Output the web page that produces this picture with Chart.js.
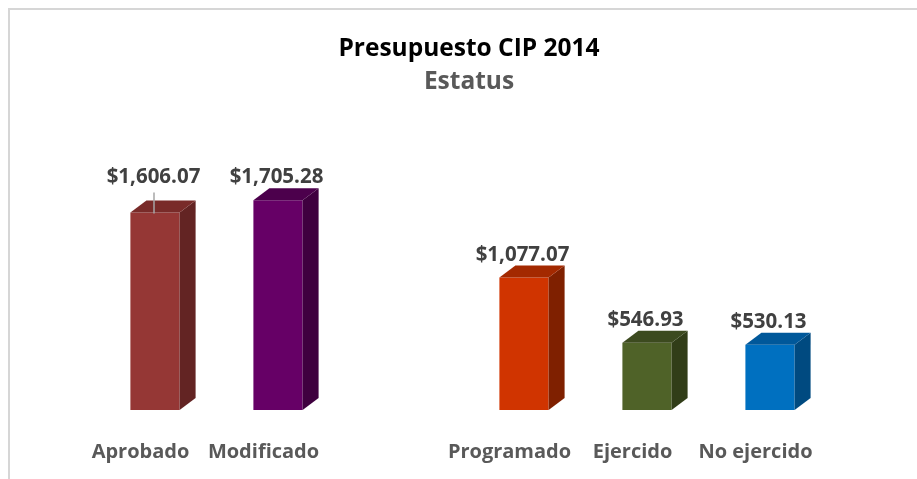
<!DOCTYPE html>
<html>
<head>
<meta charset="utf-8">
<script src="https://cdn.jsdelivr.net/npm/chart.js@4/dist/chart.umd.min.js"></script>
<style>
  html, body { margin: 0; padding: 0; background: #fff; }
  #wrap { width: 917px; height: 479px; position: relative; }
</style>
</head>
<body>
<div id="wrap"><canvas id="chart" width="917" height="479"></canvas></div>
<script>
const categories = ["Aprobado", "Modificado", "", "Programado", "Ejercido", "No ejercido"]
const values = [1606.07, 1705.28, null, 1077.07, 546.93, 530.13]

const frontColors = ["#953735", "#660066", "#ffffff", "#d03400", "#4f6228", "#0070c0"]
const topColors = ["#792b29", "#4c004c", "#ffffff", "#a32900", "#3c4a1f", "#00589a"]
const sideColors = ["#632423", "#3f003f", "#ffffff", "#7f2000", "#313d18", "#004a80"]

const FONT = "'Open Sans', 'DejaVu Sans', sans-serif"
const DEPTH_X = 16
const DEPTH_Y = 12

const money = v => "$" + v.toLocaleString("en-US", { minimumFractionDigits: 2, maximumFractionDigits: 2 })

// outer frame of the original chart object (top and left edges only are visible)
const framePlugin = {
  id: "frame",
  beforeDraw(chart) {
    const ctx = chart.ctx
    ctx.save()
    ctx.strokeStyle = "#d6d6d6"
    ctx.lineWidth = 2
    ctx.beginPath()
    ctx.moveTo(9, chart.height)
    ctx.lineTo(9, 9)
    ctx.lineTo(chart.width, 9)
    ctx.stroke()
    ctx.restore()
  }
}

// fake 3D: top and side faces for every bar
const bar3dPlugin = {
  id: "bar3d",
  afterDatasetsDraw(chart) {
    const ctx = chart.ctx
    const meta = chart.getDatasetMeta(0)
    meta.data.forEach((bar, i) => {
      if (values[i] == null) return
      const { x, y, base, width } = bar.getProps(["x", "y", "base", "width"], true)
      const l = x - width / 2
      const r = x + width / 2
      ctx.save()
      ctx.fillStyle = sideColors[i]
      ctx.beginPath()
      ctx.moveTo(r, y)
      ctx.lineTo(r + DEPTH_X, y - DEPTH_Y)
      ctx.lineTo(r + DEPTH_X, base - DEPTH_Y)
      ctx.lineTo(r, base)
      ctx.closePath()
      ctx.fill()
      ctx.fillStyle = topColors[i]
      ctx.beginPath()
      ctx.moveTo(l, y)
      ctx.lineTo(l + DEPTH_X, y - DEPTH_Y)
      ctx.lineTo(r + DEPTH_X, y - DEPTH_Y)
      ctx.lineTo(r, y)
      ctx.closePath()
      ctx.fill()
      ctx.restore()
    })
  }
}

// value labels above the bars; the first one was dragged up in the original, with a leader line
const labelPlugin = {
  id: "valueLabels",
  afterDatasetsDraw(chart) {
    const ctx = chart.ctx
    const meta = chart.getDatasetMeta(0)
    ctx.save()
    ctx.font = "bold 20.5px " + FONT
    ctx.fillStyle = "#404040"
    ctx.textAlign = "center"
    ctx.textBaseline = "alphabetic"
    meta.data.forEach((bar, i) => {
      if (values[i] == null) return
      const { x, y } = bar.getProps(["x", "y"], true)
      let ty = y - DEPTH_Y - 5
      if (i === 0) {
        ty -= 12
        ctx.save()
        ctx.strokeStyle = "#a6a6a6"
        ctx.lineWidth = 1.5
        ctx.beginPath()
        ctx.moveTo(x - 1, ty + 9)
        ctx.lineTo(x - 1, y + 1)
        ctx.stroke()
        ctx.restore()
      }
      ctx.fillText(money(values[i]), x - 1.5, ty)
    })
    ctx.restore()
  }
}

new Chart(document.getElementById("chart"), {
  type: "bar",
  data: {
    labels: categories,
    datasets: [{
      data: values,
      backgroundColor: frontColors,
      borderWidth: 0,
      categoryPercentage: 1,
      barPercentage: 0.4
    }]
  },
  options: {
    responsive: false,
    animation: false,
    events: [],
    // title sits a little right of the plot centre in the original, hence the uneven padding
    layout: { padding: { left: 93.5, right: 72.5, top: 0, bottom: 0 } },
    scales: {
      x: {
        grid: { display: false, drawTicks: false },
        border: { display: false },
        afterFit(scale) { scale.height = 69 },
        ticks: {
          padding: 30,
          labelOffset: -14.5,
          color: "#595959",
          font: { family: FONT, size: 20, weight: "bold" },
          maxRotation: 0,
          autoSkip: false
        }
      },
      y: {
        position: "right",
        min: 0,
        max: 2000,
        grid: { display: false, drawTicks: false },
        border: { display: false },
        ticks: { display: false },
        afterFit(scale) { scale.width = 13 }
      }
    },
    plugins: {
      legend: { display: false },
      tooltip: { enabled: false },
      title: {
        display: true,
        text: "Presupuesto CIP 2014",
        color: "#000000",
        font: { family: FONT, size: 24.5, weight: "bold" },
        padding: { top: 34.8, bottom: 1.5 }
      },
      subtitle: {
        display: true,
        text: "Estatus",
        color: "#595959",
        font: { family: FONT, size: 24.5, weight: "bold" },
        padding: { top: 1.6, bottom: 67.3 }
      }
    }
  },
  plugins: [framePlugin, bar3dPlugin, labelPlugin]
})
</script>
</body>
</html>
